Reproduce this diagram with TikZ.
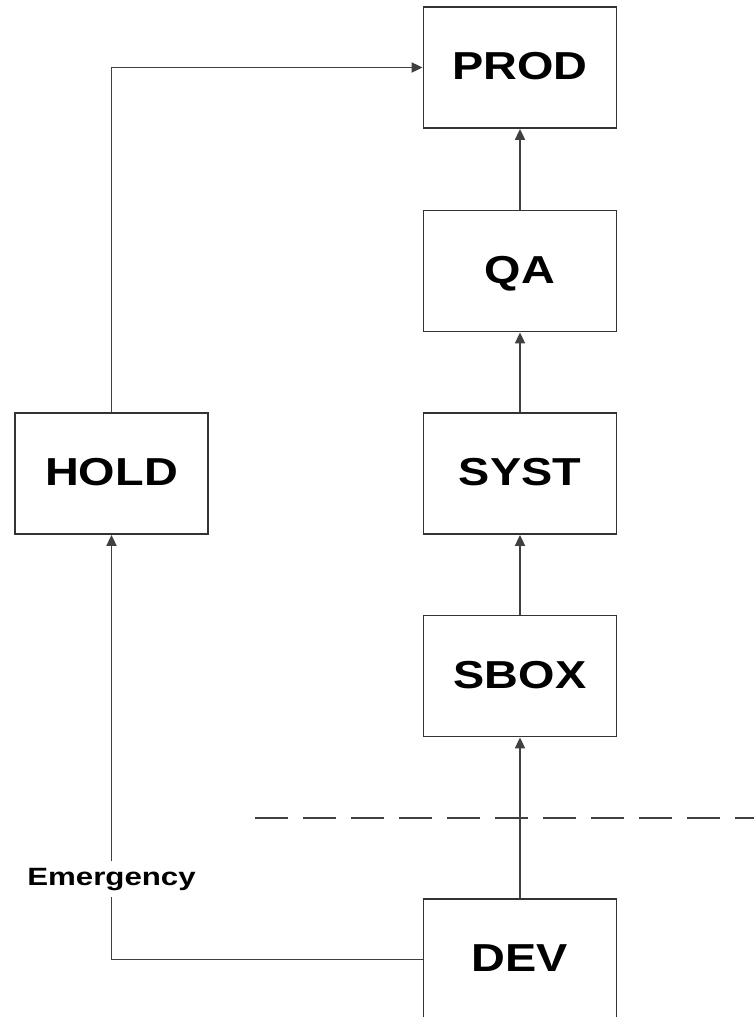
\documentclass[tikz,border=0pt]{standalone}
\usepackage{fontspec}
\setmainfont{Liberation Sans}
\usetikzlibrary{arrows.meta}
\tikzset{
  stagebox/.style={draw=black!80, line width=1.8pt, minimum width=193pt, minimum height=121pt,
    inner sep=0pt, font=\fontsize{39}{39}\selectfont\bfseries, text height=28pt, text depth=4pt},
  conn/.style={draw=black!75, line width=1.8pt, -{Triangle[length=11pt,width=10pt]}},
  plainconn/.style={draw=black!75, line width=1.8pt},
  elabel/.style={inner sep=0pt, font=\fontsize{25}{25}\selectfont\bfseries, text height=17pt,
    text depth=5pt, minimum height=35pt}
}
\begin{document}
\begin{tikzpicture}[x=1pt,y=-1pt]
\useasboundingbox (0,0) rectangle (754,1017);
\node[stagebox] (PROD) at (520,67.5) {\scalebox{1.2}[1]{PROD}};
\node[stagebox] (QA) at (520,271) {\scalebox{1.2}[1]{QA}};
\node[stagebox] (SYST) at (520,473.5) {\scalebox{1.2}[1]{SYST}};
\node[stagebox] (SBOX) at (520,676) {\scalebox{1.2}[1]{SBOX}};
\node[stagebox] (DEV) at (520,959.5) {\scalebox{1.2}[1]{DEV}};
\node[stagebox] (HOLD) at (111.5,473.5) {\scalebox{1.2}[1]{HOLD}};
\node[elabel] (em) at (111.5,879) {\scalebox{1.25}[1]{Emergency}};
\coordinate (d1) at (255,818);
\coordinate (d2) at (754,818);
\draw[plainconn, dash pattern=on 33pt off 15pt] (d1) -- (d2);
\draw[conn] (QA.north) -- (PROD.south);
\draw[conn] (SYST.north) -- (QA.south);
\draw[conn] (SBOX.north) -- (SYST.south);
\draw[conn] (DEV.north) -- (SBOX.south);
\draw[conn] (HOLD.north) |- (PROD.west);
\draw[plainconn] (DEV.west) -| (em.south);
\draw[conn] (em.north) -- (HOLD.south);
\end{tikzpicture}
\end{document}
